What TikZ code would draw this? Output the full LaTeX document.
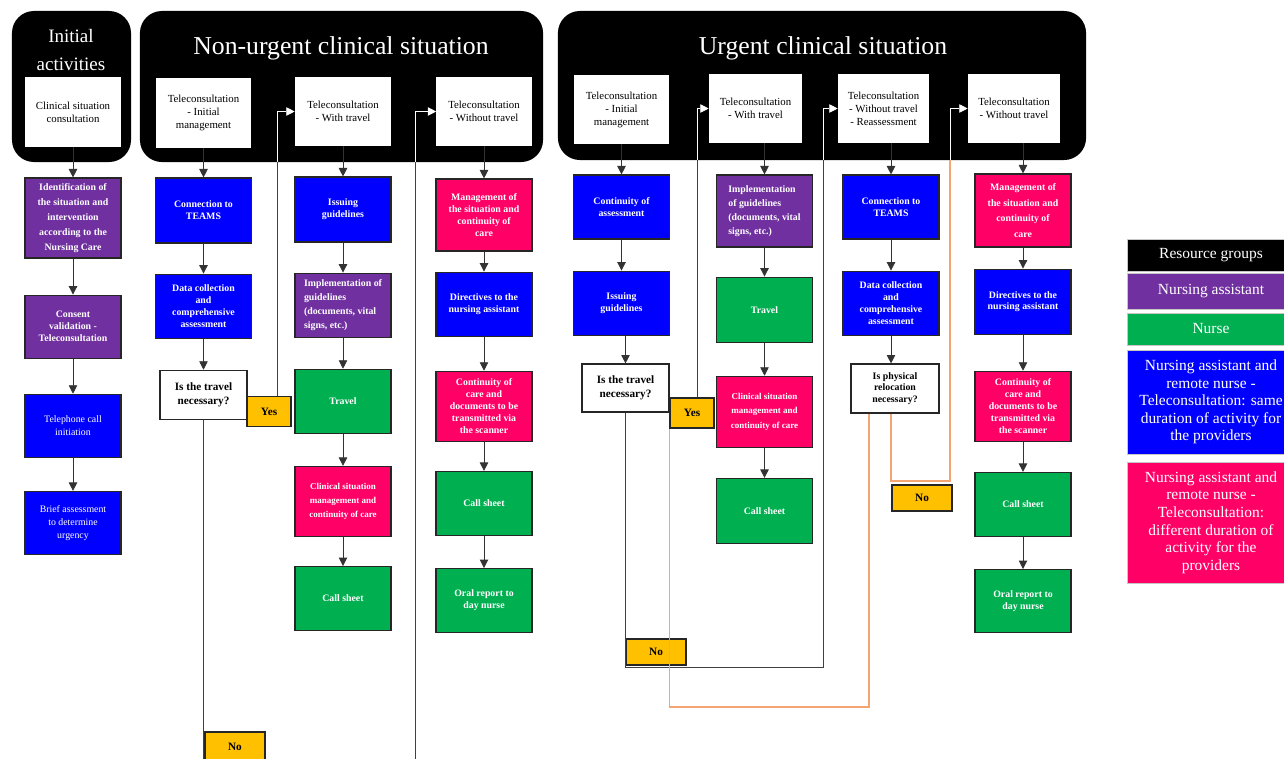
\documentclass[tikz,border=0pt]{standalone}
\usepackage{fontspec}
\setmainfont{Liberation Serif}
\usetikzlibrary{arrows.meta,positioning}

\definecolor{taskblue}{HTML}{0000FF}
\definecolor{taskpurple}{HTML}{7030A0}
\definecolor{taskgreen}{HTML}{00B050}
\definecolor{taskpink}{HTML}{FF0066}
\definecolor{answeryellow}{HTML}{FFC000}
\definecolor{orangeline}{HTML}{F5A573}
\newcommand{\taskfont}{\fontsize{7}{8.5}\selectfont\bfseries}
\newcommand{\headfont}{\fontsize{7.7}{9.2}\selectfont}
\newcommand{\titlefont}{\fontsize{18.3}{20}\selectfont}
\newcommand{\legendfont}{\fontsize{11}{12.5}\selectfont}

\begin{document}
\begin{tikzpicture}[x=0.025cm,y=-0.025cm]
\tikzstyle{panel} = [fill=black, rounded corners=0.55cm, inner sep=0pt]
\tikzstyle{title} = [text=white, font=\titlefont, align=center]
\tikzstyle{headbox} = [fill=white, minimum width=2.4cm, minimum height=1.725cm, align=center, font=\headfont, inner sep=1pt]
\tikzstyle{task} = [draw=black!85, line width=0.8pt, minimum width=2.4cm, minimum height=1.6cm, align=center, text=white, font=\taskfont, inner sep=2pt]
\tikzstyle{bluetask} = [task, fill=taskblue]
\tikzstyle{purpletask} = [task, fill=taskpurple]
\tikzstyle{greentask} = [task, fill=taskgreen]
\tikzstyle{pinktask} = [task, fill=taskpink]
\tikzstyle{question} = [task, fill=white, text=black, minimum width=2.175cm, minimum height=1.225cm, font={\fontsize{8}{10}\selectfont\bfseries}]
\tikzstyle{answer} = [task, fill=answeryellow, text=black, minimum width=1.1cm, minimum height=0.75cm, font={\fontsize{8}{10}\selectfont\bfseries}]
\tikzstyle{legendbox} = [draw=gray!45, line width=0.6pt, minimum width=4.2cm, align=center, text=white, font=\legendfont, inner sep=2pt]
\tikzstyle{flow} = [black!80, line width=0.6pt, -{Triangle[length=6pt,width=6pt]}]
\tikzstyle{back} = [black!75, line width=0.6pt]
\tikzstyle{orangeback} = [orangeline, line width=0.8pt]
\tikzstyle{inside} = [white, line width=0.6pt, -{Triangle[length=6pt,width=6pt]}]

    \useasboundingbox (0,0) rectangle (1284,758);

    % panels
    \node[panel, minimum width=2.975cm, minimum height=3.775cm] (initPanel) at (71.5,86.5) {};
    \node[panel, minimum width=10.075cm, minimum height=3.775cm] (nuPanel) at (341.5,86.5) {};
    \node[panel, minimum width=13.2cm, minimum height=3.725cm] (urPanel) at (822,85.5) {};
    \node[title, font={\fontsize{13.5}{20}\selectfont}] (initTitle) at (71,50) {Initial\\activities};
    \node[title] (nuTitle) at (341,48) {Non-urgent clinical situation};
    \node[title] (urTitle) at (823,48) {Urgent clinical situation};

    \node[headbox] (initHead) at (73,112) {Clinical situation\\consultation};
    \node[headbox, minimum width=2.375cm] (nuHead1) at (203.5,113) {Teleconsultation\\- Initial\\management};
    \node[headbox] (nuHead2) at (343,111.5) {Teleconsultation\\- With travel};
    \node[headbox, minimum width=2.375cm] (nuHead3) at (484,111.5) {Teleconsultation\\- Without travel};
    \node[headbox, minimum width=2.375cm] (urHead1) at (621.5,109.5) {Teleconsultation\\- Initial\\management};
    \node[headbox, minimum width=2.325cm] (urHead2) at (755.5,108.5) {Teleconsultation\\- With travel};
    \node[headbox, minimum width=2.275cm] (urHead3) at (883.5,108.5) {Teleconsultation\\- Without travel\\- Reassessment};
    \node[headbox, minimum width=2.3cm] (urHead4) at (1014,108.5) {Teleconsultation\\- Without travel};

    % initial activities
    \node[purpletask, minimum height=2cm, font={\fontsize{7}{10.8}\selectfont\bfseries}] (iIdent) at (73,218) {Identification of\\the situation and\\intervention\\according to the\\Nursing Care};
    \node[purpletask, minimum height=1.575cm, below=0.9cm of iIdent] (iConsent) {Consent\\validation -\\Teleconsultation};
    \node[bluetask, minimum height=1.575cm, font={\fontsize{7}{9}\selectfont}, below=0.875cm of iConsent] (iPhone) {Telephone call\\initiation};
    \node[bluetask, minimum height=1.575cm, font={\fontsize{7}{9}\selectfont}, below=0.825cm of iPhone] (iBrief) {Brief assessment\\to determine\\urgency};

    % non-urgent
    \node[bluetask, minimum height=1.625cm] (nuTeams) at (203.5,210.5) {Connection to\\TEAMS};
    \node[bluetask, below=0.75cm of nuTeams] (nuData) {Data collection\\and\\comprehensive\\assessment};
    \node[question, below=0.775cm of nuData] (nuTravelQ) {Is the travel\\necessary?};
    \node[answer] (nuYes) at (269,411.5) {Yes};
    \node[answer, minimum width=1.5cm] (nuNo) at (235,747) {No};

    \node[bluetask, minimum height=1.625cm] (nuGuide) at (343,209.5) {Issuing\\guidelines};
    \node[purpletask, align=left, font={\fontsize{7}{10}\selectfont\bfseries}, below=0.75cm of nuGuide] (nuImpl) {Implementation of\\guidelines\\(documents, vital\\signs, etc.)};
    \node[greentask, below=0.775cm of nuImpl] (nuTravel) {Travel};
    \node[pinktask, minimum height=1.75cm, font={\fontsize{6.4}{10}\selectfont\bfseries}, below=0.8cm of nuTravel] (nuClin) {Clinical situation\\management and\\continuity of care};
    \node[greentask, below=0.725cm of nuClin] (nuCall) {Call sheet};

    \node[pinktask, minimum height=1.8cm] (nuMgmt) at (484,215) {Management of\\the situation and\\continuity of\\care};
    \node[bluetask, below=0.5cm of nuMgmt] (nuDirect) {Directives to the\\nursing assistant};
    \node[pinktask, minimum height=1.75cm, below=0.85cm of nuDirect] (nuCont) {Continuity of\\care and\\documents to be\\transmitted via\\the scanner};
    \node[greentask, below=0.725cm of nuCont] (nuCall2) {Call sheet};
    \node[greentask, below=0.8cm of nuCall2] (nuOral) {Oral report to\\day nurse};

    % urgent
    \node[bluetask] (uCont) at (621.5,207) {Continuity of\\assessment};
    \node[bluetask, below=0.775cm of uCont] (uGuide) {Issuing\\guidelines};
    \node[question, minimum height=1.2cm] (uTravelQ) at (625.5,388) {Is the travel\\necessary?};
    \node[answer] (uYes) at (692,413) {Yes};
    \node[answer, minimum width=1.5cm, minimum height=0.65cm] (uNo) at (656,652) {No};

    \node[purpletask, minimum height=1.8cm, align=left, font={\fontsize{7}{10}\selectfont\bfseries}] (uImpl) at (764.5,211) {Implementation\\of guidelines\\(documents, vital\\signs, etc.)};
    \node[greentask, minimum height=1.625cm, below=0.725cm of uImpl] (uTravel) {Travel};
    \node[pinktask, minimum height=1.775cm, font={\fontsize{6.4}{10}\selectfont\bfseries}, below=0.825cm of uTravel] (uClin) {Clinical situation\\management and\\continuity of care};
    \node[greentask, minimum height=1.625cm, below=0.75cm of uClin] (uCall) {Call sheet};

    \node[bluetask] (uTeams) at (891,207) {Connection to\\TEAMS};
    \node[bluetask, below=0.775cm of uTeams] (uData) {Data collection\\and\\comprehensive\\assessment};
    \node[question, minimum width=2.2cm, font={\fontsize{7}{8.3}\selectfont\bfseries}] (uRelocQ) at (895,388.5) {Is physical\\relocation\\necessary?};
    \node[answer, minimum width=1.5cm, minimum height=0.65cm] (uNo2) at (922,498) {No};

    \node[pinktask, minimum height=1.825cm, font={\fontsize{7}{11}\selectfont\bfseries}] (uMgmt) at (1023,210.5) {Management of\\the situation and\\continuity of\\care};
    \node[bluetask, minimum height=1.625cm, below=0.525cm of uMgmt] (uDirect) {Directives to the\\nursing assistant};
    \node[pinktask, minimum height=1.75cm, below=0.9cm of uDirect] (uCont2) {Continuity of\\care and\\documents to be\\transmitted via\\the scanner};
    \node[greentask, below=0.75cm of uCont2] (uCall2) {Call sheet};
    \node[greentask, minimum height=1.575cm, below=0.8cm of uCall2] (uOral) {Oral report to\\day nurse};

    % resource groups
    \node[legendbox, fill=black, minimum height=0.8cm] (lgRes) at (1211,255) {Resource groups};
    \node[legendbox, fill=taskpurple, minimum height=0.9cm] (lgAssist) at (1211,291) {Nursing assistant};
    \node[legendbox, fill=taskgreen, minimum height=0.8cm] (lgNurse) at (1211,329) {Nurse};
    \node[legendbox, fill=taskblue, minimum height=2.6cm] (lgSame) at (1211,402) {Nursing assistant and\\remote nurse -\\Teleconsultation: same\\duration of activity for\\the providers};
    \node[legendbox, fill=taskpink, minimum height=3.025cm] (lgDiff) at (1211,522.5) {Nursing assistant and\\remote nurse -\\Teleconsultation:\\different duration of\\activity for the\\providers};

    % flows down the columns
    \draw[flow] (initHead.south -| iIdent) -- (iIdent);
    \draw[flow] (iIdent) -- (iConsent);
    \draw[flow] (iConsent) -- (iPhone);
    \draw[flow] (iPhone) -- (iBrief);

    \draw[flow] (nuHead1.south -| nuTeams) -- (nuTeams);
    \draw[flow] (nuTeams) -- (nuData);
    \draw[flow] (nuData) -- (nuTravelQ);
    \draw[flow] (nuHead2) -- (nuGuide);
    \draw[flow] (nuGuide) -- (nuImpl);
    \draw[flow] (nuImpl) -- (nuTravel);
    \draw[flow] (nuTravel) -- (nuClin);
    \draw[flow] (nuClin) -- (nuCall);
    \draw[flow] (nuHead3) -- (nuMgmt);
    \draw[flow] (nuMgmt) -- (nuDirect);
    \draw[flow] (nuDirect) -- (nuCont);
    \draw[flow] (nuCont) -- (nuCall2);
    \draw[flow] (nuCall2) -- (nuOral);

    \draw[flow] (urHead1) -- (uCont);
    \draw[flow] (uCont) -- (uGuide);
    \draw[flow] (uGuide.south -| uTravelQ) -- (uTravelQ);
    \draw[flow] (urHead2.south -| uImpl) -- (uImpl);
    \draw[flow] (uImpl) -- (uTravel);
    \draw[flow] (uTravel) -- (uClin);
    \draw[flow] (uClin) -- (uCall);
    \draw[flow] (urHead3.south -| uTeams) -- (uTeams);
    \draw[flow] (uTeams) -- (uData);
    \draw[flow] (uData.south) -- (uData.south |- uRelocQ.north);
    \draw[flow] (urHead4.south -| uMgmt) -- (uMgmt);
    \draw[flow] (uMgmt) -- (uDirect);
    \draw[flow] (uDirect) -- (uCont2);
    \draw[flow] (uCont2) -- (uCall2);
    \draw[flow] (uCall2) -- (uOral);

    % decisions, non-urgent
    \coordinate (nuNoEnd) at (203.5,775);
    \coordinate (nuYesIn) at (277,162);
    \coordinate (nuSkip) at (415,775);
    \coordinate (nuSkipIn) at (415,162);
    \draw[back] (nuTravelQ) -- (nuNoEnd);
    \draw[back] (nuYes.north -| nuYesIn) -- (nuYesIn);
    \draw[inside] (nuYesIn) |- (nuHead2);
    \draw[back] (nuSkip) -- (nuSkipIn);
    \draw[inside] (nuSkipIn) |- (nuHead3);

    % decisions, urgent
    \coordinate (uNoTurn) at (823,667);
    \coordinate (uNoIn) at (823,160);
    \coordinate (uYesIn) at (697,160);
    \coordinate (uRelocTurn) at (869,707);
    \coordinate (uRelocNo) at (891,481);
    \coordinate (uNo2In) at (950,160);
    \draw[back] (uTravelQ) |- (uNoTurn) -- (uNoIn);
    \draw[inside] (uNoIn) |- (urHead3);
    \draw[back] (uYes.north -| uYesIn) -- (uYesIn);
    \draw[inside] (uYesIn) |- (urHead2);
    \draw[orangeback] (uRelocQ.south -| uRelocTurn) -- (uRelocTurn) -| (uYes.south west);
    \draw[orangeback] (uRelocQ.south -| uRelocNo) -- (uRelocNo) -| (uNo2In);
    \draw[inside] (uNo2In) |- (urHead4);
\end{tikzpicture}
\end{document}
